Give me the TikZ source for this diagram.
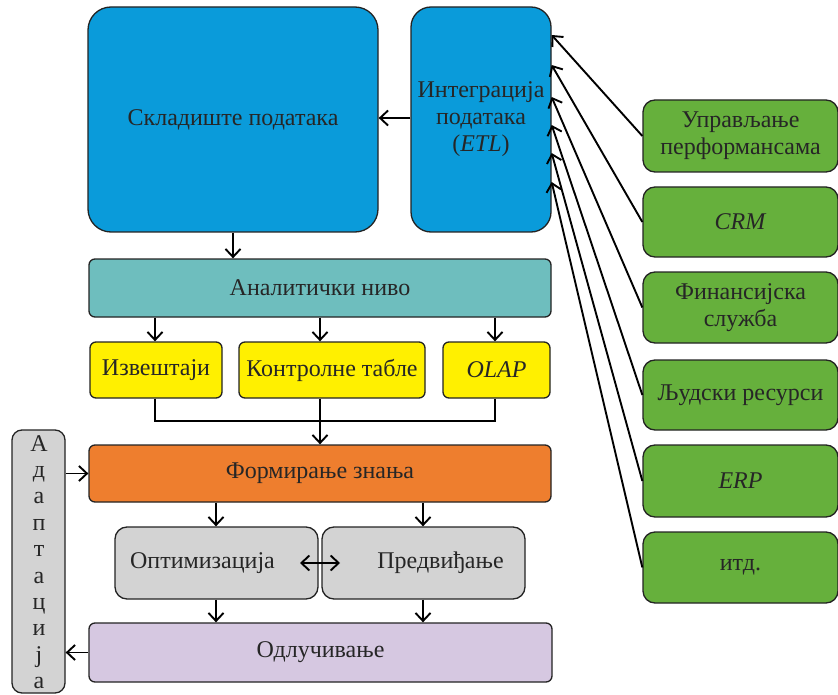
\documentclass[tikz,border=0pt]{standalone}
\usepackage{fontspec}
\setmainfont{Liberation Serif}
\newfontfamily\tnr{Liberation Serif}
\usetikzlibrary{arrows.meta}
\definecolor{cblue}{RGB}{10,155,218}
\definecolor{cteal}{RGB}{110,190,190}
\definecolor{cyel}{RGB}{255,240,0}
\definecolor{corange}{RGB}{238,126,46}
\definecolor{cgray}{RGB}{211,211,211}
\definecolor{clav}{RGB}{214,200,225}
\definecolor{cgreen}{RGB}{102,176,60}
\definecolor{cborder}{RGB}{35,35,35}
\begin{document}
\begin{tikzpicture}[x=1pt,y=-1pt,
  box/.style={draw=cborder,line width=1.3pt,inner sep=0pt,align=center,
    font=\tnr\fontsize{24}{27}\selectfont,text=black!85},
  letter/.style={font=\tnr\fontsize{24}{27}\selectfont,text=black!85,inner sep=0pt,
    text height=12pt,text depth=3pt},
  arr/.style={line width=1.9pt,-{Straight Barb[length=8pt,width=15pt,line width=1.9pt]}},
  darr/.style={line width=1.9pt,{Straight Barb[length=8pt,width=15pt,line width=1.9pt]}-{Straight Barb[length=8pt,width=15pt,line width=1.9pt]}},
  ln/.style={line width=1.9pt}]
\useasboundingbox (0,0) rectangle (838,695);
\newcommand{\mybox}[7]{% name, x1,y1,x2,y2, style, text
  \node[box,#6,minimum width={#4-#2},minimum height={#5-#3}] (#1) at ({(#2+#4)/2},{(#3+#5)/2}) {#7};}
\mybox{dw}{88}{7}{378}{232}{fill=cblue,rounded corners=23pt}{Складиште података}
\mybox{etl}{411}{7}{551}{232}{fill=cblue,rounded corners=20pt}{Интеграција\\података\\(\textit{ETL})}
\mybox{an}{89}{259}{551}{317}{fill=cteal,rounded corners=6pt}{Аналитички ниво}
\mybox{izv}{90}{342}{222}{398}{fill=cyel,rounded corners=6pt}{Извештаји}
\mybox{kt}{239}{342}{425}{398}{fill=cyel,rounded corners=6pt}{Контролне табле}
\mybox{olap}{443}{342}{550}{398}{fill=cyel,rounded corners=6pt}{\textit{OLAP}}
\mybox{fz}{89}{445}{551}{502}{fill=corange,rounded corners=6pt}{Формирање знања}
\mybox{opt}{115}{527}{318}{599}{fill=cgray,rounded corners=12pt}{Оптимизација\hspace*{28pt}}
\mybox{pred}{322}{527}{525}{599}{fill=cgray,rounded corners=12pt}{\hspace*{34pt}Предвиђање}
\mybox{odl}{89}{623}{552}{682}{fill=clav,rounded corners=6pt}{Одлучивање}
\mybox{ad}{12}{430}{65}{693}{fill=cgray,rounded corners=10pt}{}
\mybox{g1}{643}{100}{838}{172}{fill=cgreen,rounded corners=12pt}{Управљање\\перформансама}
\mybox{g2}{643}{187}{838}{257}{fill=cgreen,rounded corners=12pt}{\textit{CRM}}
\mybox{g3}{643}{272}{838}{343}{fill=cgreen,rounded corners=12pt}{Финансијска\\служба}
\mybox{g4}{643}{360}{838}{430}{fill=cgreen,rounded corners=12pt}{Људски ресурси}
\mybox{g5}{643}{445}{838}{517}{fill=cgreen,rounded corners=12pt}{\textit{ERP}}
\mybox{g6}{643}{532}{838}{603}{fill=cgreen,rounded corners=12pt}{итд.}
% Adaptacija letters
\foreach \l [count=\i from 0] in {А,д,а,п,т,а,ц,и,ј,а}
  \node[letter] (ad\i) at (39,{446.5+26.4*\i}) {\l};
% connectors
\draw[arr] (etl.west |- 0,118) -- (dw.east |- 0,118);
\draw[arr] (dw.south) -- (an.north -| dw.south);
\foreach \x/\t in {155/izv,320/kt,495/olap}
  \draw[arr] (an.south -| \x,0) -- (\t.north -| \x,0);
\coordinate (j) at (320,421);
\draw[ln] (izv.south -| 155,0) |- (j) -| (olap.south -| 495,0);
\draw[arr] (kt.south -| j) -- (fz.north -| j);
\foreach \x in {216,423}{
  \draw[arr] (fz.south -| \x,0) -- (opt.north -| \x,0);
  \draw[arr] (opt.south -| \x,0) -- (odl.north -| \x,0);}
\draw[darr] (300,563) -- (340,563);
\draw[arr] (ad.east |- fz.west) -- (fz.west);
\draw[arr] (odl.west) -- (ad.east |- odl.west);
\foreach \g/\y in {g1/35,g2/65,g3/97,g4/125,g5/153,g6/182}
  \draw[arr] (\g.west) -- (etl.east |- 0,\y);
\end{tikzpicture}
\end{document}
